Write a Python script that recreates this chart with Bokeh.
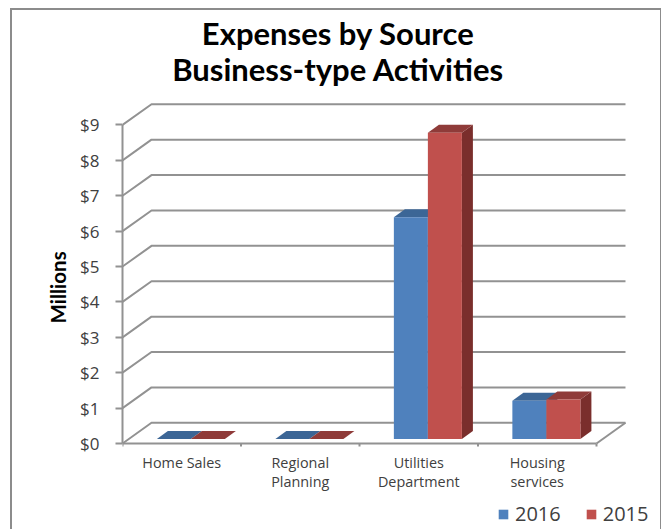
from bokeh.plotting import figure
from bokeh.models import Range1d, FixedTicker, Legend, LegendItem, LinearAxis, Title, InlineStyleSheet
from bokeh.core.properties import value
from bokeh.embed import file_html
from bokeh.resources import INLINE

categories = ["Home Sales", "Regional\nPlanning", "Utilities\nDepartment", "Housing\nservices"]
series_names = ["2016", "2015"]
values_2016 = [0, 0, 6.26, 1.08]
values_2015 = [0, 0, 8.65, 1.11]
y_ticks = [0, 1, 2, 3, 4, 5, 6, 7, 8, 9]
title_lines = ["Expenses by Source", "Business-type Activities"]
y_title = "Millions"

# projection (in axis units)
WALL_DX, WALL_DY = 0.2447, 0.585
BAR_DX, BAR_DY = 0.093, 0.226
BAR_BASE = 0.13
BAR_START, BAR_W = 0.29, 0.287
PX_X, PX_Y = 118.5, 35.39

GRID = "#929292"
BLUE, BLUE_TOP, BLUE_SIDE = "#4f81bd", "#3c6696", "#2f4f75"
RED, RED_TOP, RED_SIDE = "#c0504d", "#8f3b39", "#7a2e2c"

p = figure(width=661, height=529, output_backend="svg", toolbar_location=None,
           x_axis_location=None, y_axis_location=None,
           x_range=Range1d(0, 539 / PX_X), y_range=Range1d(-86 / PX_Y, 443 / PX_Y),
           min_border_left=122, min_border_right=0, min_border_top=0, min_border_bottom=0)
p.outline_line_color = None
p.grid.visible = False
p.background_fill_color = "white"

# chart-area border, open at the bottom of the window
p.stylesheets = [InlineStyleSheet(css=""":host::after {
  content: ""; position: absolute; left: 10px; top: 8px; width: 648px; height: 521px;
  border: 2px solid #8c8c8c; border-bottom: none; pointer-events: none; box-sizing: content-box;
}""")]

# walls and floor
xs, ys = [], []
for t in y_ticks:
    xs.append([0, WALL_DX, 4 + WALL_DX])
    ys.append([t, t + WALL_DY, t + WALL_DY])
xs.append([4 + WALL_DX, 4])
ys.append([WALL_DY, 0])
p.multi_line(xs, ys, line_color=GRID, line_width=2)

# value axis
yax = LinearAxis(ticker=FixedTicker(ticks=y_ticks), bounds=(0, 9),
                 major_label_overrides={t: f"${t}" for t in y_ticks},
                 axis_line_color=GRID, axis_line_width=2,
                 major_tick_line_color=GRID, major_tick_line_width=2,
                 major_tick_in=0, major_tick_out=7, minor_tick_out=0, minor_tick_in=0,
                 major_label_standoff=16,
                 major_label_text_font="Open Sans", major_label_text_font_size="17px",
                 major_label_text_color="#404040")
p.add_layout(yax, "left")
p.add_layout(Title(text=y_title, align="left", offset=206, standoff=15,
                   text_font="Lato", text_font_style="bold", text_font_size="20.5px",
                   text_color="#000000"), "left")

# category axis, inside the plot area so that the legend can sit below it
tick_x = list(range(len(categories) + 1))
p.segment(x0=[0], y0=[0], x1=[len(categories)], y1=[0], line_color=GRID, line_width=2)
p.segment(x0=tick_x, y0=[0] * len(tick_x), x1=tick_x, y1=[-3 / PX_Y] * len(tick_x),
          line_color=GRID, line_width=2)
p.text(x=[i + 0.5 for i in range(len(categories))], y=[-9 / PX_Y] * len(categories),
       text=categories, text_align="center", text_baseline="top",
       text_font=value("Open Sans"), text_font_size="14.4px", text_color="#404040",
       text_line_height=1.0)

# 3-D bars
legend_items = []
for s, (vals, c, ct, cs, name) in enumerate([
        (values_2016, BLUE, BLUE_TOP, BLUE_SIDE, series_names[0]),
        (values_2015, RED, RED_TOP, RED_SIDE, series_names[1])]):
    lefts = [i + BAR_START + s * BAR_W for i in range(4)]
    rights = [l + BAR_W for l in lefts]
    tops = [BAR_BASE + v for v in vals]
    p.patches([[r, r + BAR_DX, r + BAR_DX, r] for r in rights],
              [[BAR_BASE, BAR_BASE + BAR_DY, t + BAR_DY, t] for t in tops],
              fill_color=cs, line_color=None)
    p.patches([[l, l + BAR_DX, r + BAR_DX, r] for l, r in zip(lefts, rights)],
              [[t, t + BAR_DY, t + BAR_DY, t] for t in tops],
              fill_color=ct, line_color=None)
    f = p.quad(left=lefts, right=rights, bottom=[BAR_BASE] * 4, top=tops,
               fill_color=c, line_color=None)
    legend_items.append(LegendItem(label=name, renderers=[f]))

legend = Legend(items=legend_items, orientation="horizontal", location=(375, 2),
                background_fill_alpha=0, border_line_color=None, padding=0, margin=0,
                glyph_width=12, glyph_height=12, label_standoff=6, spacing=24,
                label_text_font="Open Sans", label_text_font_size="20px",
                label_text_color="#404040")
p.add_layout(legend, "center")

# title
p.text(x=[1.82, 1.82], y=[(443 - 32) / PX_Y, (443 - 68) / PX_Y], text=title_lines,
       text_align="center", text_baseline="middle", text_font=value("Lato"),
       text_font_style="bold", text_font_size="31px", text_color="#000000")

open("out.html", "w").write(file_html(p, INLINE))
